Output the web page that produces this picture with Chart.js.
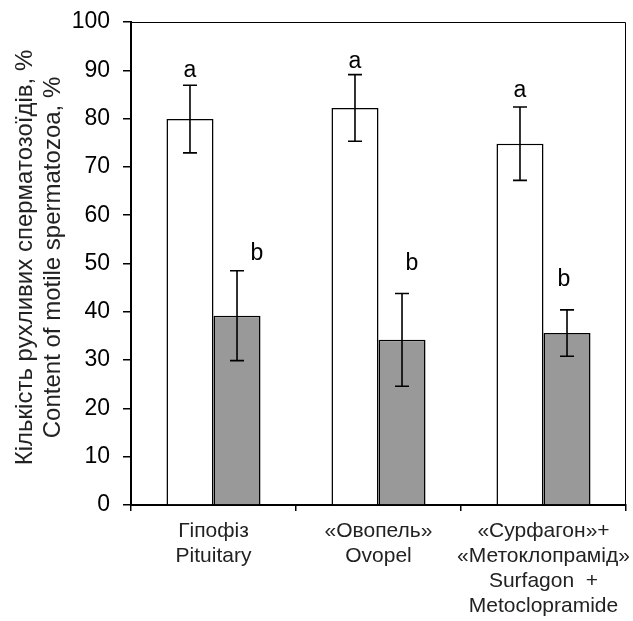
<!DOCTYPE html>
<html>
<head>
<meta charset="utf-8">
<script src="https://cdn.jsdelivr.net/npm/chart.js@4"></script>
<style>
html,body{margin:0;padding:0;background:#fff;}
#wrap{width:633px;height:621px;}
</style>
</head>
<body>
<div id="wrap"><canvas id="c" width="633" height="621"></canvas></div>
<script>
// ---- data ----
const categories = [
  ["Гіпофіз", "Pituitary"],
  ["«Овопель»", "Ovopel"],
  ["«Сурфагон»+", "«Метоклопрамід»", "Surfagon  +", "Metoclopramide"]
];
const whiteValues = [79.9, 82.2, 74.8];
const whiteErrors = [7.0, 6.9, 7.6];
const grayValues = [39.2, 34.2, 35.6];
const grayErrors = [9.3, 9.6, 4.8];
const whiteLetters = ["a", "a", "a"];
const grayLetters = ["b", "b", "b"];
const yTitleLines = ["Кількість рухливих сперматозоїдів, %", "Content of motile spermatozoa, %"];

const FONT = "'Liberation Sans', Arial, sans-serif";

const errorBarPlugin = {
  id: 'errorBars',
  afterDatasetsDraw(chart, args, opts) {
    const ctx = chart.ctx;
    const y = chart.scales.y;
    ctx.save();
    chart.data.datasets.forEach((ds, di) => {
      const meta = chart.getDatasetMeta(di);
      meta.data.forEach((bar, i) => {
        const v = ds.data[i], e = ds.errors[i];
        const yt = y.getPixelForValue(v + e), yb = y.getPixelForValue(v - e);
        const x = bar.x;
        ctx.strokeStyle = '#000';
        ctx.lineWidth = 1.6;
        ctx.beginPath();
        ctx.moveTo(x, yt); ctx.lineTo(x, yb);
        ctx.moveTo(x - 7, yt); ctx.lineTo(x + 7, yt);
        ctx.moveTo(x - 7, yb); ctx.lineTo(x + 7, yb);
        ctx.stroke();
        // letters
        const nudge = opts.nudges[di][i];
        ctx.fillStyle = '#000';
        ctx.font = '23px ' + FONT;
        ctx.textAlign = 'center';
        ctx.textBaseline = 'middle';
        ctx.fillText(ds.letters[i], x + nudge[0], yt - nudge[1]);
      });
    });
    // frame top & right
    const a = chart.chartArea;
    ctx.strokeStyle = '#000';
    ctx.lineWidth = 1;
    ctx.beginPath();
    ctx.moveTo(a.left, a.top + 0.5); ctx.lineTo(a.right - 0.5, a.top + 0.5); ctx.lineTo(a.right - 0.5, a.bottom);
    ctx.stroke();
    // y title
    const cy = (a.top + a.bottom) / 2 - 6;
    ctx.fillStyle = '#222';
    ctx.font = '24px ' + FONT;
    ctx.textAlign = 'center';
    ctx.textBaseline = 'alphabetic';
    opts.titleX.forEach((tx, k) => {
      ctx.save();
      ctx.translate(tx, cy);
      ctx.rotate(-Math.PI / 2);
      ctx.fillText(yTitleLines[k], 0, 0);
      ctx.restore();
    });
    ctx.restore();
  }
};

new Chart(document.getElementById('c'), {
  type: 'bar',
  data: {
    labels: categories,
    datasets: [
      { data: whiteValues, errors: whiteErrors, letters: whiteLetters,
        backgroundColor: '#ffffff', borderColor: '#000', borderWidth: 1.5,
        barPercentage: 1, categoryPercentage: 0.57 },
      { data: grayValues, errors: grayErrors, letters: grayLetters,
        backgroundColor: '#999999', borderColor: '#000', borderWidth: 1.5,
        barPercentage: 1, categoryPercentage: 0.57 }
    ]
  },
  options: {
    responsive: false,
    animation: false,
    events: [],
    layout: { padding: { left: 0, top: 22, right: 7, bottom: 0 } },
    plugins: {
      legend: { display: false },
      tooltip: { enabled: false },
      errorBars: {
        nudges: [[[0, 15], [0, 13], [0, 16]], [[20, 17], [10, 30], [-3, 30]]],
        titleX: [32, 60]
      }
    },
    scales: {
      x: {
        afterFit(s) { s.height = 116; s.paddingLeft = 0; s.paddingRight = 0; },
        border: { display: true, color: '#000', width: 2 },
        grid: { drawOnChartArea: false, drawTicks: true, tickLength: 6, color: '#000', lineWidth: 1.5 },
        ticks: { color: '#222', font: { family: FONT, size: 21, lineHeight: 1.19 },
                 padding: 8, maxRotation: 0, minRotation: 0, autoSkip: false }
      },
      y: {
        min: 0, max: 100,
        afterFit(s) { s.width = 131; s.paddingTop = 0; s.paddingBottom = 0; },
        border: { display: true, color: '#000', width: 2 },
        grid: { drawOnChartArea: false, drawTicks: true, tickLength: 8, color: '#000', lineWidth: 1.5 },
        ticks: { stepSize: 10, color: '#000', font: { family: FONT, size: 23 }, padding: 13 }
      }
    }
  },
  plugins: [errorBarPlugin]
});
</script>
</body>
</html>
